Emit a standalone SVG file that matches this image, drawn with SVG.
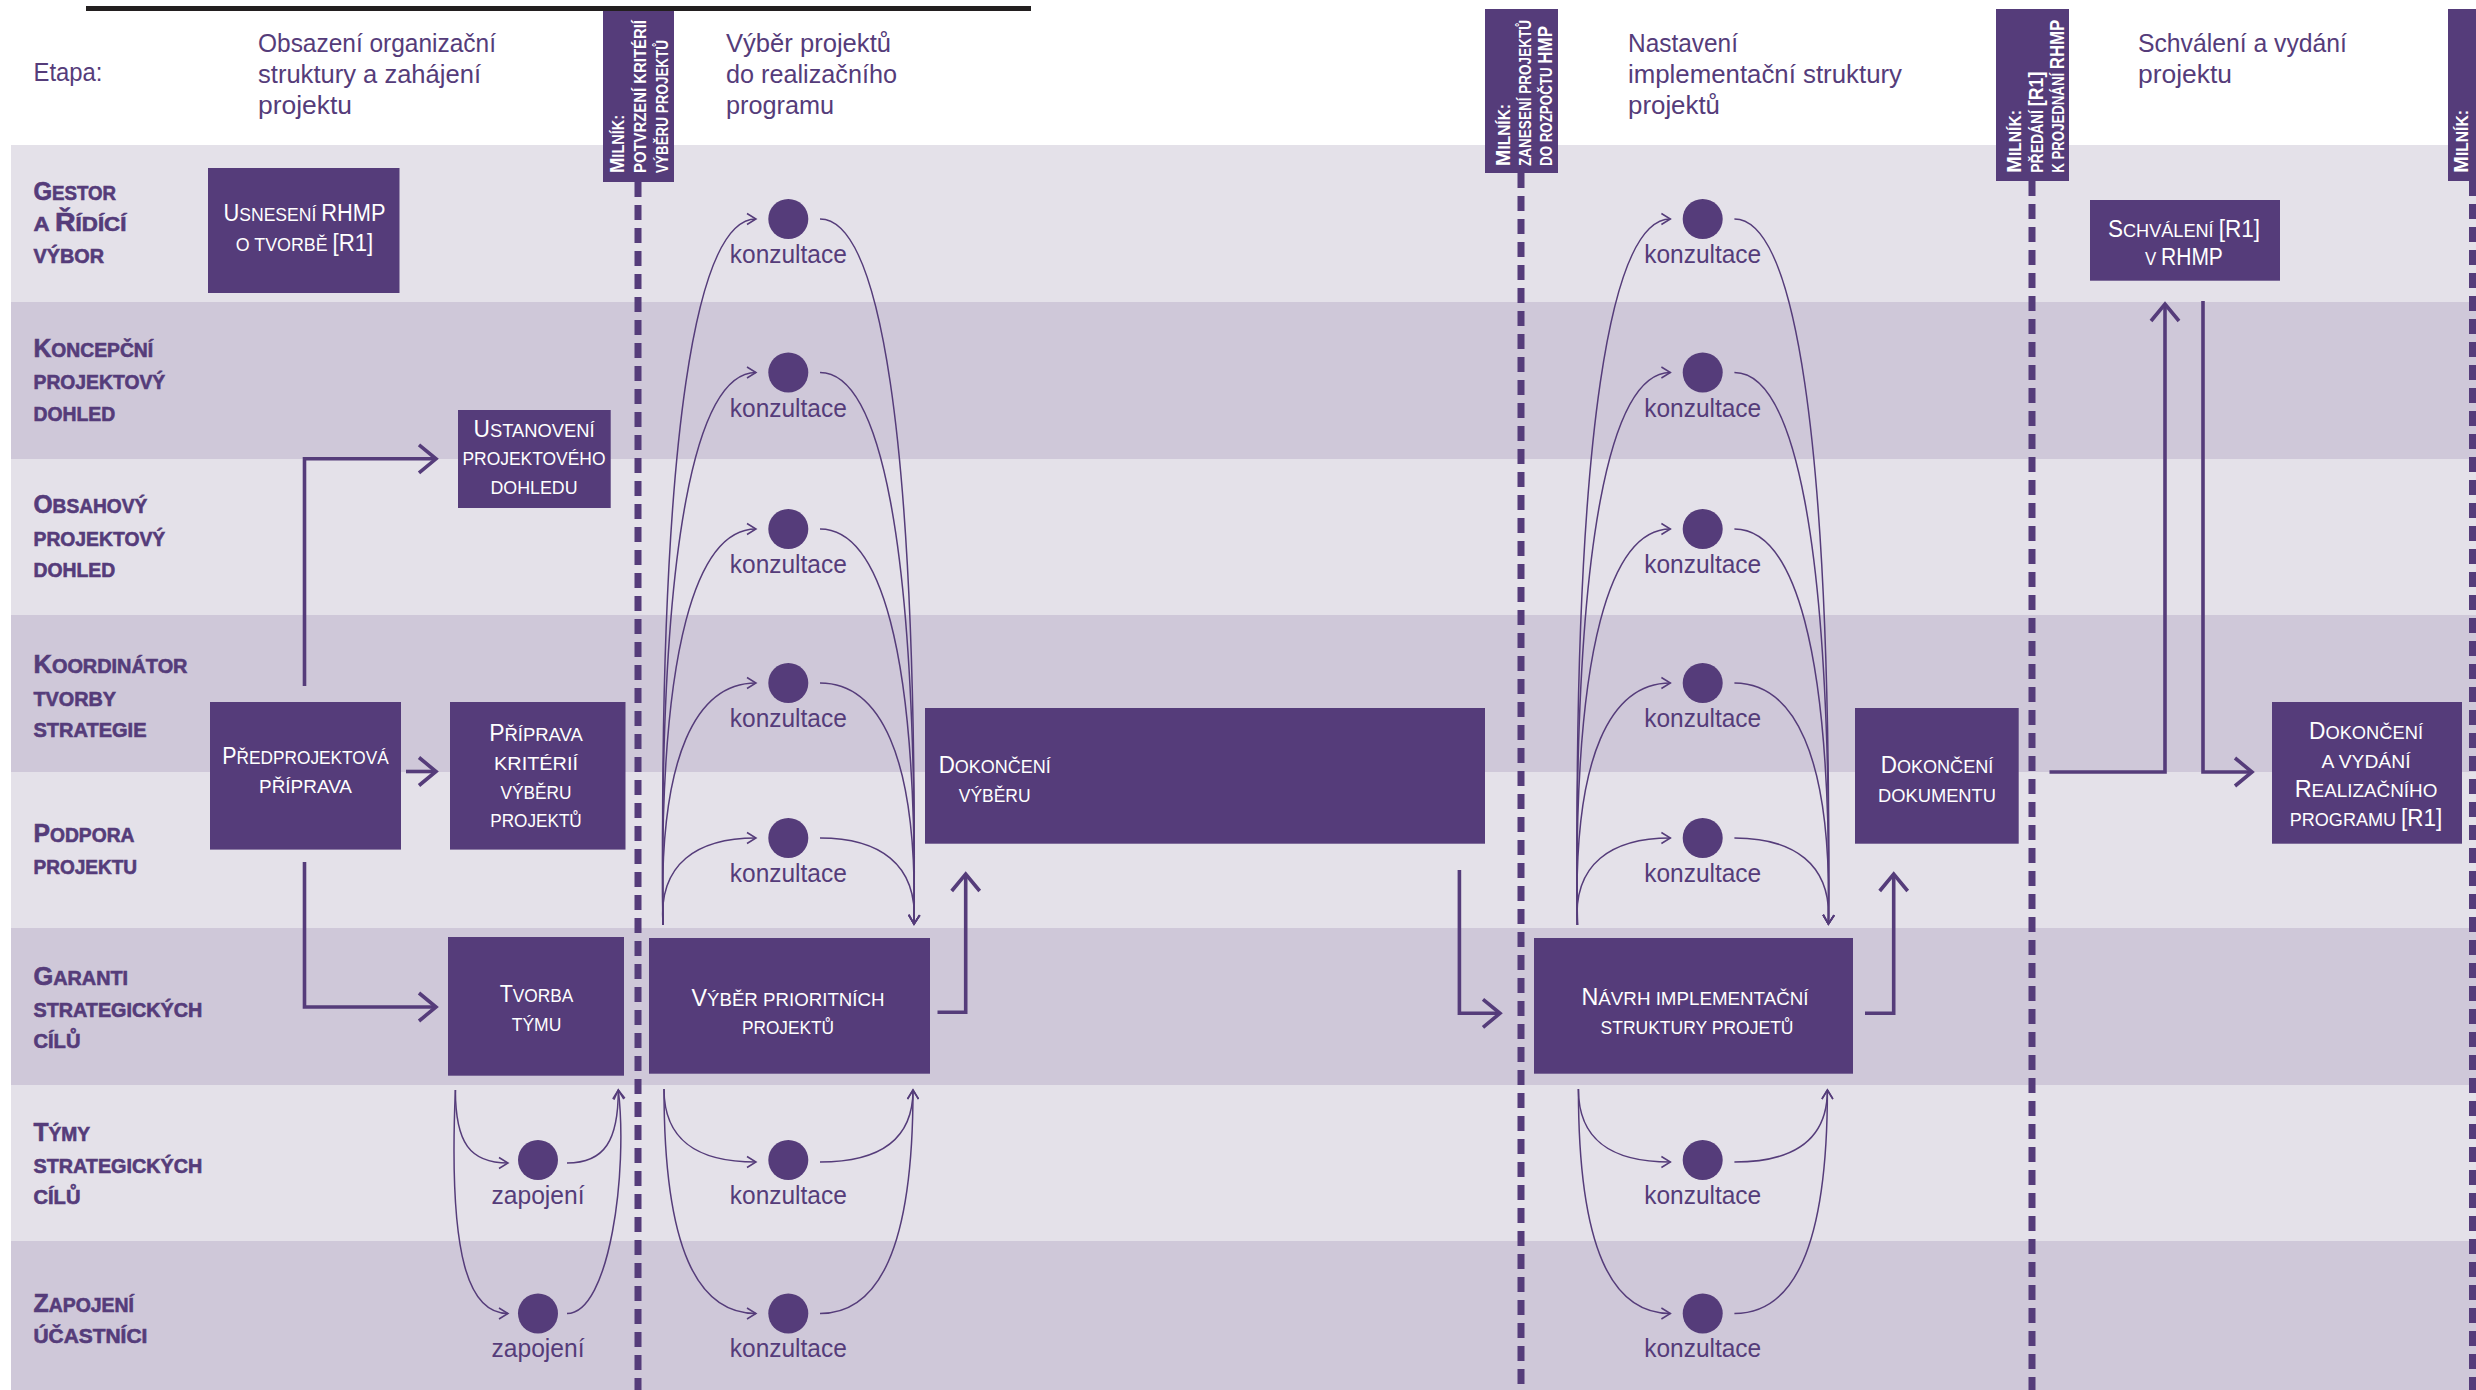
<svg xmlns="http://www.w3.org/2000/svg" width="2476" height="1390" viewBox="0 0 2476 1390">
<defs>
<style>
.bl{fill:#e4e1e9}
.bd{fill:#cfc8d9}
.hdr{font-family:"Liberation Sans",Arial,sans-serif;font-size:26px;fill:#553c7a}
.row{font-family:"Liberation Sans",Arial,sans-serif;font-size:19.5px;font-weight:bold;fill:#553c7a;stroke:#553c7a;stroke-width:0.6}
.B{font-size:25px}
.box{fill:#553c7a}
.nt{font-family:"Liberation Sans",Arial,sans-serif;font-size:18.5px;fill:#ffffff;text-anchor:middle}
.N{font-size:23px}
.ms{font-family:"Liberation Sans",Arial,sans-serif;font-size:16.5px;font-weight:bold;fill:#ffffff}
.M{font-size:21px}
.dash{stroke:#553c7a;stroke-width:7;stroke-dasharray:15 8;fill:none}
.thick{stroke:#553c7a;stroke-width:3.6;fill:none;marker-end:url(#ah)}
.thina{stroke:#553c7a;stroke-width:1.5;fill:none;marker-end:url(#at)}
.dot{fill:#553c7a}
.lbl{font-family:"Liberation Sans",Arial,sans-serif;font-size:26px;fill:#553c7a;text-anchor:middle}
</style>
<marker id="ah" markerUnits="userSpaceOnUse" markerWidth="44" markerHeight="44" viewBox="-22 -22 44 44" refX="0" refY="0" orient="auto">
<path d="M-17,-14 L0,0 L-17,14" fill="none" stroke="#553c7a" stroke-width="3.6"/>
</marker>
<marker id="at" markerUnits="userSpaceOnUse" markerWidth="24" markerHeight="24" viewBox="-12 -12 24 24" refX="0" refY="0" orient="auto">
<path d="M-9,-5.5 L0,0 L-9,5.5" fill="none" stroke="#553c7a" stroke-width="1.5"/>
</marker>
</defs>

<rect width="2476" height="1390" fill="#ffffff"/>

<g id="lanes">
<rect class="bl" x="11" y="145" width="2465" height="157"/>
<rect class="bd" x="11" y="302" width="2465" height="157"/>
<rect class="bl" x="11" y="459" width="2465" height="156"/>
<rect class="bd" x="11" y="615" width="2465" height="157"/>
<rect class="bl" x="11" y="772" width="2465" height="156"/>
<rect class="bd" x="11" y="928" width="2465" height="157"/>
<rect class="bl" x="11" y="1085" width="2465" height="156"/>
<rect class="bd" x="11" y="1241" width="2465" height="149"/>
</g>

<g id="row-labels">
<text class="row" x="33.5" y="200" textLength="82.6" lengthAdjust="spacingAndGlyphs"><tspan class="B">G</tspan>ESTOR</text>
<text class="row" x="33.5" y="231" textLength="92.9" lengthAdjust="spacingAndGlyphs">A <tspan class="B">Ř</tspan>ÍDÍCÍ</text>
<text class="row" x="33.5" y="263" textLength="70.5" lengthAdjust="spacingAndGlyphs">VÝBOR</text>
<text class="row" x="33.5" y="357" textLength="119.6" lengthAdjust="spacingAndGlyphs"><tspan class="B">K</tspan>ONCEPČNÍ</text>
<text class="row" x="33.5" y="389" textLength="131.7" lengthAdjust="spacingAndGlyphs">PROJEKTOVÝ</text>
<text class="row" x="33.5" y="420.5" textLength="81.7" lengthAdjust="spacingAndGlyphs">DOHLED</text>
<text class="row" x="33.5" y="513" textLength="113.8" lengthAdjust="spacingAndGlyphs"><tspan class="B">O</tspan>BSAHOVÝ</text>
<text class="row" x="33.5" y="546" textLength="131.7" lengthAdjust="spacingAndGlyphs">PROJEKTOVÝ</text>
<text class="row" x="33.5" y="577" textLength="81.7" lengthAdjust="spacingAndGlyphs">DOHLED</text>
<text class="row" x="33.5" y="673" textLength="154" lengthAdjust="spacingAndGlyphs"><tspan class="B">K</tspan>OORDINÁTOR</text>
<text class="row" x="33.5" y="706" textLength="82.6" lengthAdjust="spacingAndGlyphs">TVORBY</text>
<text class="row" x="33.5" y="737" textLength="113" lengthAdjust="spacingAndGlyphs">STRATEGIE</text>
<text class="row" x="33.5" y="841.5" textLength="101" lengthAdjust="spacingAndGlyphs"><tspan class="B">P</tspan>ODPORA</text>
<text class="row" x="33.5" y="874" textLength="103.6" lengthAdjust="spacingAndGlyphs">PROJEKTU</text>
<text class="row" x="33.5" y="985" textLength="94.6" lengthAdjust="spacingAndGlyphs"><tspan class="B">G</tspan>ARANTI</text>
<text class="row" x="33.5" y="1016.7" textLength="168.8" lengthAdjust="spacingAndGlyphs">STRATEGICKÝCH</text>
<text class="row" x="33.5" y="1048.3" textLength="46.9" lengthAdjust="spacingAndGlyphs">CÍLŮ</text>
<text class="row" x="33.5" y="1140.7" textLength="56.7" lengthAdjust="spacingAndGlyphs"><tspan class="B">T</tspan>ÝMY</text>
<text class="row" x="33.5" y="1172.7" textLength="168.8" lengthAdjust="spacingAndGlyphs">STRATEGICKÝCH</text>
<text class="row" x="33.5" y="1204" textLength="46.9" lengthAdjust="spacingAndGlyphs">CÍLŮ</text>
<text class="row" x="33.5" y="1311.7" textLength="100.4" lengthAdjust="spacingAndGlyphs"><tspan class="B">Z</tspan>APOJENÍ</text>
<text class="row" x="33.5" y="1343" textLength="113.8" lengthAdjust="spacingAndGlyphs">ÚČASTNÍCI</text>
</g>

<g id="header">
<text class="hdr" x="33.5" y="81" textLength="69" lengthAdjust="spacingAndGlyphs">Etapa:</text>
<text class="hdr" x="258" y="52" textLength="238" lengthAdjust="spacingAndGlyphs">Obsazení organizační</text>
<text class="hdr" x="258" y="83" textLength="223" lengthAdjust="spacingAndGlyphs">struktury a zahájení</text>
<text class="hdr" x="258" y="114" textLength="94" lengthAdjust="spacingAndGlyphs">projektu</text>
<text class="hdr" x="726" y="52" textLength="165" lengthAdjust="spacingAndGlyphs">Výběr projektů</text>
<text class="hdr" x="726" y="83" textLength="171" lengthAdjust="spacingAndGlyphs">do realizačního</text>
<text class="hdr" x="726" y="114" textLength="108" lengthAdjust="spacingAndGlyphs">programu</text>
<text class="hdr" x="1628" y="52" textLength="110" lengthAdjust="spacingAndGlyphs">Nastavení</text>
<text class="hdr" x="1628" y="83" textLength="274" lengthAdjust="spacingAndGlyphs">implementační struktury</text>
<text class="hdr" x="1628" y="114" textLength="92" lengthAdjust="spacingAndGlyphs">projektů</text>
<text class="hdr" x="2138" y="52" textLength="209" lengthAdjust="spacingAndGlyphs">Schválení a vydání</text>
<text class="hdr" x="2138" y="83" textLength="94" lengthAdjust="spacingAndGlyphs">projektu</text>
</g>

<g id="milestone-1">
<line class="dash" x1="638" y1="182" x2="638" y2="1390"/>
<rect class="box" x="603" y="9" width="71" height="173"/>
<text class="ms" transform="translate(623.5,173) rotate(-90)" textLength="58" lengthAdjust="spacingAndGlyphs"><tspan class="M">M</tspan>ILNÍK:</text>
<text class="ms" transform="translate(645.5,173) rotate(-90)" textLength="153" lengthAdjust="spacingAndGlyphs">POTVRZENÍ KRITÉRIÍ</text>
<text class="ms" transform="translate(668,173) rotate(-90)" textLength="133" lengthAdjust="spacingAndGlyphs">VÝBĚRU PROJEKTŮ</text>
</g>
<g id="milestone-2">
<line class="dash" x1="1521" y1="173" x2="1521" y2="1390"/>
<rect class="box" x="1485" y="9" width="73" height="164"/>
<text class="ms" transform="translate(1510,166) rotate(-90)" textLength="62" lengthAdjust="spacingAndGlyphs"><tspan class="M">M</tspan>ILNÍK:</text>
<text class="ms" transform="translate(1531,166) rotate(-90)" textLength="146" lengthAdjust="spacingAndGlyphs">ZANESENÍ PROJEKTŮ</text>
<text class="ms" transform="translate(1552,166) rotate(-90)" textLength="140" lengthAdjust="spacingAndGlyphs">DO ROZPOČTU <tspan class="M">HMP</tspan></text>
</g>
<g id="milestone-3">
<line class="dash" x1="2032" y1="181" x2="2032" y2="1390"/>
<rect class="box" x="1996" y="9" width="73" height="172"/>
<text class="ms" transform="translate(2021,172.7) rotate(-90)" textLength="62.7" lengthAdjust="spacingAndGlyphs"><tspan class="M">M</tspan>ILNÍK:</text>
<text class="ms" transform="translate(2043,172.7) rotate(-90)" textLength="101" lengthAdjust="spacingAndGlyphs">PŘEDÁNÍ <tspan class="M">[R1]</tspan></text>
<text class="ms" transform="translate(2064,172.7) rotate(-90)" textLength="153" lengthAdjust="spacingAndGlyphs">K PROJEDNÁNÍ <tspan class="M">RHMP</tspan></text>
</g>
<g id="milestone-4">
<line class="dash" x1="2472.5" y1="181" x2="2472.5" y2="1390"/>
<rect class="box" x="2448" y="9" width="40" height="172"/>
<text class="ms" transform="translate(2468,172.7) rotate(-90)" textLength="62.7" lengthAdjust="spacingAndGlyphs"><tspan class="M">M</tspan>ILNÍK:</text>
</g>

<line x1="86" y1="8.5" x2="1031" y2="8.5" stroke="#231f20" stroke-width="5"/>

<g id="connectors">
<path class="thick" d="M304.5,686 V458.8 H436"/>
<path class="thick" d="M406,771.5 H436"/>
<path class="thick" d="M304.5,862 V1007 H436"/>
<path class="thick" d="M937.5,1012.3 H965.7 V874"/>
<path class="thick" d="M1459.4,870 V1013.3 H1500"/>
<path class="thick" d="M1865,1013.3 H1893.7 V874"/>
<path class="thick" d="M2049.5,772 H2165 V304"/>
<path class="thick" d="M2203,301 V772 H2252"/>

<path class="thina" d="M663,925 C658,420 698,219 756,219"/>
<path class="thina" d="M820,219 C878,219 918,420 914,924"/>
<path class="thina" d="M663,925 C658,530 698,372.5 756,372.5"/>
<path class="thina" d="M820,372.5 C878,372.5 918,530 914,924"/>
<path class="thina" d="M663,925 C658,642 698,529 756,529"/>
<path class="thina" d="M820,529 C878,529 918,642 914,924"/>
<path class="thina" d="M663,925 C658,752 698,683 756,683"/>
<path class="thina" d="M820,683 C878,683 918,752 914,924"/>
<path class="thina" d="M663,925 C658,863 698,838 756,838"/>
<path class="thina" d="M820,838 C878,838 918,863 914,924"/>
<path class="thina" d="M664,1089 C664,1141 698,1162 756,1162"/>
<path class="thina" d="M820,1162 C878,1162 913,1141 913,1090"/>
<path class="thina" d="M664,1089 C664,1250 698,1313.5 756,1313.5"/>
<path class="thina" d="M820,1313.5 C878,1313.5 913,1250 913,1090"/>
<path class="thina" d="M1577.4,925 C1572.4,420 1612.4,219 1670.4,219"/>
<path class="thina" d="M1734.4,219 C1792.4,219 1832.4,420 1828.4,924"/>
<path class="thina" d="M1577.4,925 C1572.4,530 1612.4,372.5 1670.4,372.5"/>
<path class="thina" d="M1734.4,372.5 C1792.4,372.5 1832.4,530 1828.4,924"/>
<path class="thina" d="M1577.4,925 C1572.4,642 1612.4,529 1670.4,529"/>
<path class="thina" d="M1734.4,529 C1792.4,529 1832.4,642 1828.4,924"/>
<path class="thina" d="M1577.4,925 C1572.4,752 1612.4,683 1670.4,683"/>
<path class="thina" d="M1734.4,683 C1792.4,683 1832.4,752 1828.4,924"/>
<path class="thina" d="M1577.4,925 C1572.4,863 1612.4,838 1670.4,838"/>
<path class="thina" d="M1734.4,838 C1792.4,838 1832.4,863 1828.4,924"/>
<path class="thina" d="M1578.4,1089 C1578.4,1141 1612.4,1162 1670.4,1162"/>
<path class="thina" d="M1734.4,1162 C1792.4,1162 1827.4,1141 1827.4,1090"/>
<path class="thina" d="M1578.4,1089 C1578.4,1250 1612.4,1313.5 1670.4,1313.5"/>
<path class="thina" d="M1734.4,1313.5 C1792.4,1313.5 1827.4,1250 1827.4,1090"/>
<path class="thina" d="M455.4,1090 C455.4,1143 470,1163 508,1163"/>
<path class="thina" d="M567,1163 C605,1163 618.3,1140 618.3,1090"/>
<path class="thina" d="M455.4,1090 C448,1262 470,1313.5 508,1313.5"/>
<path class="thina" d="M567,1313.5 C610,1313.5 628,1170 618.3,1090"/>
</g>

<g id="n-usneseni">
<rect class="box" x="208" y="168" width="191.5" height="125"/>
<text class="nt" x="304.5" y="220.7" textLength="162" lengthAdjust="spacingAndGlyphs"><tspan class="N">U</tspan>SNESENÍ <tspan class="N">RHMP</tspan></text>
<text class="nt" x="304.5" y="250.7" textLength="137.5" lengthAdjust="spacingAndGlyphs">O TVORBĚ <tspan class="N">[R1]</tspan></text>
</g>
<g id="n-ustanoveni">
<rect class="box" x="458" y="410" width="152.7" height="98"/>
<text class="nt" x="534" y="436.6" textLength="121" lengthAdjust="spacingAndGlyphs"><tspan class="N">U</tspan>STANOVENÍ</text>
<text class="nt" x="534" y="465" textLength="143" lengthAdjust="spacingAndGlyphs">PROJEKTOVÉHO</text>
<text class="nt" x="534" y="494" textLength="87" lengthAdjust="spacingAndGlyphs">DOHLEDU</text>
</g>
<g id="n-predprojektova">
<rect class="box" x="210" y="702" width="191" height="147.6"/>
<text class="nt" x="305.5" y="764" textLength="166.5" lengthAdjust="spacingAndGlyphs"><tspan class="N">P</tspan>ŘEDPROJEKTOVÁ</text>
<text class="nt" x="305.5" y="793" textLength="93" lengthAdjust="spacingAndGlyphs">PŘÍPRAVA</text>
</g>
<g id="n-priprava-kriterii">
<rect class="box" x="450" y="702" width="175.5" height="147.6"/>
<text class="nt" x="536" y="741" textLength="93.6" lengthAdjust="spacingAndGlyphs"><tspan class="N">P</tspan>ŘÍPRAVA</text>
<text class="nt" x="536" y="770" textLength="84" lengthAdjust="spacingAndGlyphs">KRITÉRIÍ</text>
<text class="nt" x="536" y="798.7" textLength="71" lengthAdjust="spacingAndGlyphs">VÝBĚRU</text>
<text class="nt" x="536" y="827" textLength="91.5" lengthAdjust="spacingAndGlyphs">PROJEKTŮ</text>
</g>
<g id="n-tvorba-tymu">
<rect class="box" x="448" y="937" width="176" height="138.7"/>
<text class="nt" x="536.5" y="1001.7" textLength="73.7" lengthAdjust="spacingAndGlyphs"><tspan class="N">T</tspan>VORBA</text>
<text class="nt" x="536.5" y="1030.7" textLength="49.6" lengthAdjust="spacingAndGlyphs">TÝMU</text>
</g>
<g id="n-vyber-prioritnich">
<rect class="box" x="649" y="938" width="281" height="135.7"/>
<text class="nt" x="788" y="1006" textLength="193" lengthAdjust="spacingAndGlyphs"><tspan class="N">V</tspan>ÝBĚR PRIORITNÍCH</text>
<text class="nt" x="788" y="1034" textLength="92" lengthAdjust="spacingAndGlyphs">PROJEKTŮ</text>
</g>
<g id="n-dokonceni-vyberu">
<rect class="box" x="925" y="708" width="560" height="135.7"/>
<text class="nt" x="994.7" y="773" textLength="112" lengthAdjust="spacingAndGlyphs"><tspan class="N">D</tspan>OKONČENÍ</text>
<text class="nt" x="994.7" y="802" textLength="71.7" lengthAdjust="spacingAndGlyphs">VÝBĚRU</text>
</g>
<g id="n-navrh">
<rect class="box" x="1534" y="938" width="319" height="135.7"/>
<text class="nt" x="1695" y="1005" textLength="227" lengthAdjust="spacingAndGlyphs"><tspan class="N">N</tspan>ÁVRH IMPLEMENTAČNÍ</text>
<text class="nt" x="1697" y="1034" textLength="193" lengthAdjust="spacingAndGlyphs">STRUKTURY PROJETŮ</text>
</g>
<g id="n-dokonceni-dokumentu">
<rect class="box" x="1855" y="708" width="163.7" height="135.7"/>
<text class="nt" x="1937" y="773.3" textLength="112.6" lengthAdjust="spacingAndGlyphs"><tspan class="N">D</tspan>OKONČENÍ</text>
<text class="nt" x="1937" y="802.3" textLength="118" lengthAdjust="spacingAndGlyphs">DOKUMENTU</text>
</g>
<g id="n-schvaleni">
<rect class="box" x="2090" y="200" width="190" height="80.7"/>
<text class="nt" x="2184" y="236.7" textLength="152" lengthAdjust="spacingAndGlyphs"><tspan class="N">S</tspan>CHVÁLENÍ <tspan class="N">[R1]</tspan></text>
<text class="nt" x="2184" y="265" textLength="77.8" lengthAdjust="spacingAndGlyphs">V <tspan class="N">RHMP</tspan></text>
</g>
<g id="n-dokonceni-vydani">
<rect class="box" x="2272" y="702" width="190" height="141.7"/>
<text class="nt" x="2366" y="739" textLength="114" lengthAdjust="spacingAndGlyphs"><tspan class="N">D</tspan>OKONČENÍ</text>
<text class="nt" x="2366" y="767.7" textLength="89" lengthAdjust="spacingAndGlyphs">A VYDÁNÍ</text>
<text class="nt" x="2366" y="796.7" textLength="142.7" lengthAdjust="spacingAndGlyphs"><tspan class="N">R</tspan>EALIZAČNÍHO</text>
<text class="nt" x="2366" y="826" textLength="152.5" lengthAdjust="spacingAndGlyphs">PROGRAMU <tspan class="N">[R1]</tspan></text>
</g>

<g id="consultations-2">
<circle class="dot" cx="788.3" cy="219" r="20"/><text class="lbl" x="788.3" y="263" textLength="117" lengthAdjust="spacingAndGlyphs">konzultace</text>
<circle class="dot" cx="788.3" cy="372.5" r="20"/><text class="lbl" x="788.3" y="416.5" textLength="117" lengthAdjust="spacingAndGlyphs">konzultace</text>
<circle class="dot" cx="788.3" cy="529" r="20"/><text class="lbl" x="788.3" y="573" textLength="117" lengthAdjust="spacingAndGlyphs">konzultace</text>
<circle class="dot" cx="788.3" cy="683" r="20"/><text class="lbl" x="788.3" y="727" textLength="117" lengthAdjust="spacingAndGlyphs">konzultace</text>
<circle class="dot" cx="788.3" cy="838" r="20"/><text class="lbl" x="788.3" y="882" textLength="117" lengthAdjust="spacingAndGlyphs">konzultace</text>
<circle class="dot" cx="788.3" cy="1160" r="20"/><text class="lbl" x="788.3" y="1204" textLength="117" lengthAdjust="spacingAndGlyphs">konzultace</text>
<circle class="dot" cx="788.3" cy="1313.5" r="20"/><text class="lbl" x="788.3" y="1357" textLength="117" lengthAdjust="spacingAndGlyphs">konzultace</text>
</g>
<g id="consultations-3">
<circle class="dot" cx="1702.7" cy="219" r="20"/><text class="lbl" x="1702.7" y="263" textLength="117" lengthAdjust="spacingAndGlyphs">konzultace</text>
<circle class="dot" cx="1702.7" cy="372.5" r="20"/><text class="lbl" x="1702.7" y="416.5" textLength="117" lengthAdjust="spacingAndGlyphs">konzultace</text>
<circle class="dot" cx="1702.7" cy="529" r="20"/><text class="lbl" x="1702.7" y="573" textLength="117" lengthAdjust="spacingAndGlyphs">konzultace</text>
<circle class="dot" cx="1702.7" cy="683" r="20"/><text class="lbl" x="1702.7" y="727" textLength="117" lengthAdjust="spacingAndGlyphs">konzultace</text>
<circle class="dot" cx="1702.7" cy="838" r="20"/><text class="lbl" x="1702.7" y="882" textLength="117" lengthAdjust="spacingAndGlyphs">konzultace</text>
<circle class="dot" cx="1702.7" cy="1160" r="20"/><text class="lbl" x="1702.7" y="1204" textLength="117" lengthAdjust="spacingAndGlyphs">konzultace</text>
<circle class="dot" cx="1702.7" cy="1313.5" r="20"/><text class="lbl" x="1702.7" y="1357" textLength="117" lengthAdjust="spacingAndGlyphs">konzultace</text>
</g>
<g id="engagement-1">
<circle class="dot" cx="538" cy="1160" r="20"/><text class="lbl" x="538" y="1204" textLength="93" lengthAdjust="spacingAndGlyphs">zapojení</text>
<circle class="dot" cx="538" cy="1313.5" r="20"/><text class="lbl" x="538" y="1357" textLength="93" lengthAdjust="spacingAndGlyphs">zapojení</text>
</g>
</svg>
